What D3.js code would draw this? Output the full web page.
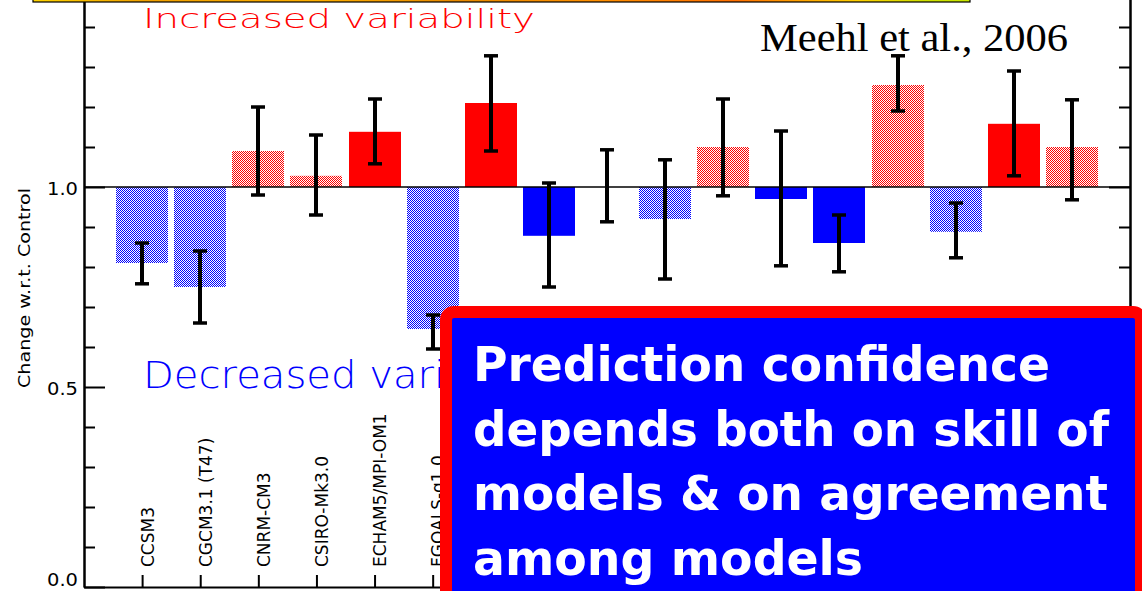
<!DOCTYPE html>
<html>
<head>
<meta charset="utf-8">
<script src="https://cdn.jsdelivr.net/npm/d3@7"></script>
<style>
  body { margin: 0; background: #fff; overflow: hidden; }
  svg { display: block; }
</style>
</head>
<body>
<div id="chart"></div>
<script>
// values (change of variability w.r.t. control)
const models = ["CCSM3", "CGCM3.1 (T47)", "CNRM-CM3", "CSIRO-Mk3.0", "ECHAM5/MPI-OM1",
  "FGOALS-g1.0", "GFDL-CM2.0", "GFDL-CM2.1", "GISS-AOM", "GISS-ER", "INM-CM3.0",
  "IPSL-CM4", "MIROC3.2 (hires)", "MIROC3.2 (medres)", "MRI-CGCM2.3.2", "PCM", "UKMO-HadCM3"];
const ratio = [0.81, 0.75, 1.09, 1.028, 1.138, 0.645, 1.21, 0.878, 1.0, 0.92, 1.1, 0.97, 0.86, 1.255, 0.888, 1.158, 1.1];
const errHigh = [0.86, 0.84, 1.2, 1.13, 1.22, 0.68, 1.328, 1.01, 1.093, 1.068, 1.22, 1.14, 0.93, 1.328, 0.96, 1.29, 1.218];
const errLow = [0.758, 0.66, 0.98, 0.93, 1.058, 0.595, 1.09, 0.75, 0.913, 0.77, 0.978, 0.803, 0.788, 1.19, 0.823, 1.028, 0.968];
const significant = [false, false, false, false, true, false, true, true, false, false, false, true, true, false, false, true, false];
const majorTicks = [0, 0.5, 1.0, 1.5];
const minorTicks = [0.1, 0.2, 0.3, 0.4, 0.6, 0.7, 0.8, 0.9, 1.1, 1.2, 1.3, 1.4];
const boxLines = ["Prediction confidence", "depends both on skill of", "models & on agreement", "among models"];
const boxWidths = [577, 636, 635, 390];

const width = 1142, height = 591;
const svg = d3.select("#chart").append("svg")
  .attr("width", width).attr("height", height);

const defs = svg.append("defs");
function stipple(id, col) {
  const p = defs.append("pattern").attr("id", id)
    .attr("patternUnits", "userSpaceOnUse").attr("width", 2).attr("height", 2);
  p.append("rect").attr("width", 2).attr("height", 2).attr("fill", "#fff");
  p.append("rect").attr("x", 0).attr("y", 0).attr("width", 1).attr("height", 1).attr("fill", col);
  p.append("rect").attr("x", 1).attr("y", 1).attr("width", 1).attr("height", 1).attr("fill", col);
}
stipple("stipRed", "#ff0000");
stipple("stipBlue", "#0000ff");

const x = d3.scalePoint().domain(models).range([84, 1130]).padding(1);
const y = d3.scaleLinear().domain([0, 1.5]).range([587, -13]);
const barW = 52;

// bars relative to 1.0
svg.append("g")
  .selectAll("rect")
  .data(models)
  .enter()
  .append("rect")
  .attr("x", (d) => Math.round(x(d) - barW / 2))
  .attr("width", barW)
  .attr("y", (d, i) => Math.min(y(ratio[i]), y(1)))
  .attr("height", (d, i) => Math.abs(y(ratio[i]) - y(1)))
  .attr("fill", (d, i) => {
    const up = ratio[i] >= 1;
    if (significant[i]) return up ? "#ff0000" : "#0000ff";
    return up ? "url(#stipRed)" : "url(#stipBlue)";
  });

// reference line at 1.0
svg.append("line")
  .attr("x1", 84).attr("x2", 1130)
  .attr("y1", y(1)).attr("y2", y(1))
  .attr("stroke", "#000").attr("stroke-width", 1.3);

// error bars
const err = svg.append("g").attr("stroke", "#000");
models.forEach((m, i) => {
  const cx = Math.round(x(m));
  err.append("line").attr("x1", cx).attr("x2", cx)
    .attr("y1", y(errHigh[i])).attr("y2", y(errLow[i])).attr("stroke-width", 4);
  [errHigh[i], errLow[i]].forEach(v => {
    err.append("line").attr("x1", cx - 7).attr("x2", cx + 7)
      .attr("y1", y(v)).attr("y2", y(v)).attr("stroke-width", 3.5);
  });
});

// axes
const axisFont = "'DejaVu Sans', sans-serif";
const left = svg.append("g").attr("transform", "translate(84,0)")
  .call(d3.axisLeft(y).tickValues(majorTicks).tickSize(-21).tickSizeOuter(0)
    .tickPadding(6).tickFormat(d3.format(".1f")));
svg.append("g").attr("transform", "translate(84,0)")
  .call(d3.axisLeft(y).tickValues(minorTicks).tickSize(-11).tickSizeOuter(0).tickFormat(""));
svg.append("g").attr("transform", "translate(1130,0)")
  .call(d3.axisRight(y).tickValues(majorTicks).tickSize(-21).tickSizeOuter(0).tickFormat(""));
svg.append("g").attr("transform", "translate(1130,0)")
  .call(d3.axisRight(y).tickValues(minorTicks).tickSize(-11).tickSizeOuter(0).tickFormat(""));
const bottom = svg.append("g").attr("transform", "translate(0,587)")
  .call(d3.axisBottom(x).tickSize(-12).tickSizeOuter(0));

svg.selectAll(".domain, .tick line").attr("stroke", "#000").attr("stroke-width", 2);
left.selectAll("text")
  .attr("font-family", axisFont).attr("font-size", 17).attr("fill", "#000")
  .attr("textLength", 31).attr("lengthAdjust", "spacingAndGlyphs")
  .attr("dy", d => d === 0 ? "-0.1em" : "0.45em");
bottom.selectAll(".tick text")
  .attr("transform", "rotate(-90)")
  .attr("x", 20).attr("y", 5).attr("dy", "0.35em")
  .attr("text-anchor", "start")
  .attr("font-family", axisFont).attr("font-size", 17).attr("fill", "#000");

// y axis title
svg.append("text")
  .attr("transform", "translate(30,288) rotate(-90)")
  .attr("text-anchor", "middle")
  .attr("font-family", axisFont).attr("font-size", 16)
  .attr("textLength", 200).attr("lengthAdjust", "spacingAndGlyphs")
  .text("Change w.r.t. Control");

// annotations
svg.append("text")
  .attr("x", 143).attr("y", 28)
  .attr("font-family", axisFont).attr("font-weight", 200).attr("font-size", 27)
  .attr("fill", "#ff0000")
  .attr("textLength", 392).attr("lengthAdjust", "spacingAndGlyphs")
  .text("Increased variability");
svg.append("text")
  .attr("x", 143).attr("y", 388)
  .attr("font-family", axisFont).attr("font-weight", 200).attr("font-size", 37)
  .attr("fill", "#0000ff")
  .attr("textLength", 425).attr("lengthAdjust", "spacingAndGlyphs")
  .text("Decreased variability");
svg.append("text")
  .attr("x", 760).attr("y", 51)
  .attr("font-family", "'Liberation Serif', 'Times New Roman', serif").attr("font-size", 40)
  .attr("fill", "#000")
  .attr("textLength", 308).attr("lengthAdjust", "spacingAndGlyphs")
  .text("Meehl et al., 2006");

// strip of the previous slide graphic at the very top
const grad = defs.append("linearGradient").attr("id", "strip");
[["0%", "#ffd400"], ["12%", "#f0a000"], ["30%", "#ffb000"], ["45%", "#e88a00"],
 ["60%", "#ff9000"], ["75%", "#ff7000"], ["88%", "#ffd000"], ["95%", "#d0e000"], ["100%", "#c8e800"]]
  .forEach(s => grad.append("stop").attr("offset", s[0]).attr("stop-color", s[1]));
svg.append("rect")
  .attr("x", 33).attr("y", -6).attr("width", 937).attr("height", 8)
  .attr("fill", "url(#strip)").attr("stroke", "#000").attr("stroke-width", 1.2);

// callout box
svg.append("rect")
  .attr("x", 446).attr("y", 312).attr("width", 695).attr("height", 300)
  .attr("rx", 8)
  .attr("fill", "#0000ff").attr("stroke", "#ff0000").attr("stroke-width", 12);
svg.append("g")
  .selectAll("text")
  .data(boxLines)
  .enter()
  .append("text")
  .attr("x", 473)
  .attr("y", (d, i) => 381 + i * 64.7)
  .attr("font-family", "'DejaVu Sans Condensed', 'DejaVu Sans', sans-serif")
  .attr("font-weight", "bold").attr("font-size", 48)
  .attr("fill", "#fff")
  .attr("textLength", (d, i) => boxWidths[i]).attr("lengthAdjust", "spacingAndGlyphs")
  .text(d => d);
</script>
</body>
</html>
